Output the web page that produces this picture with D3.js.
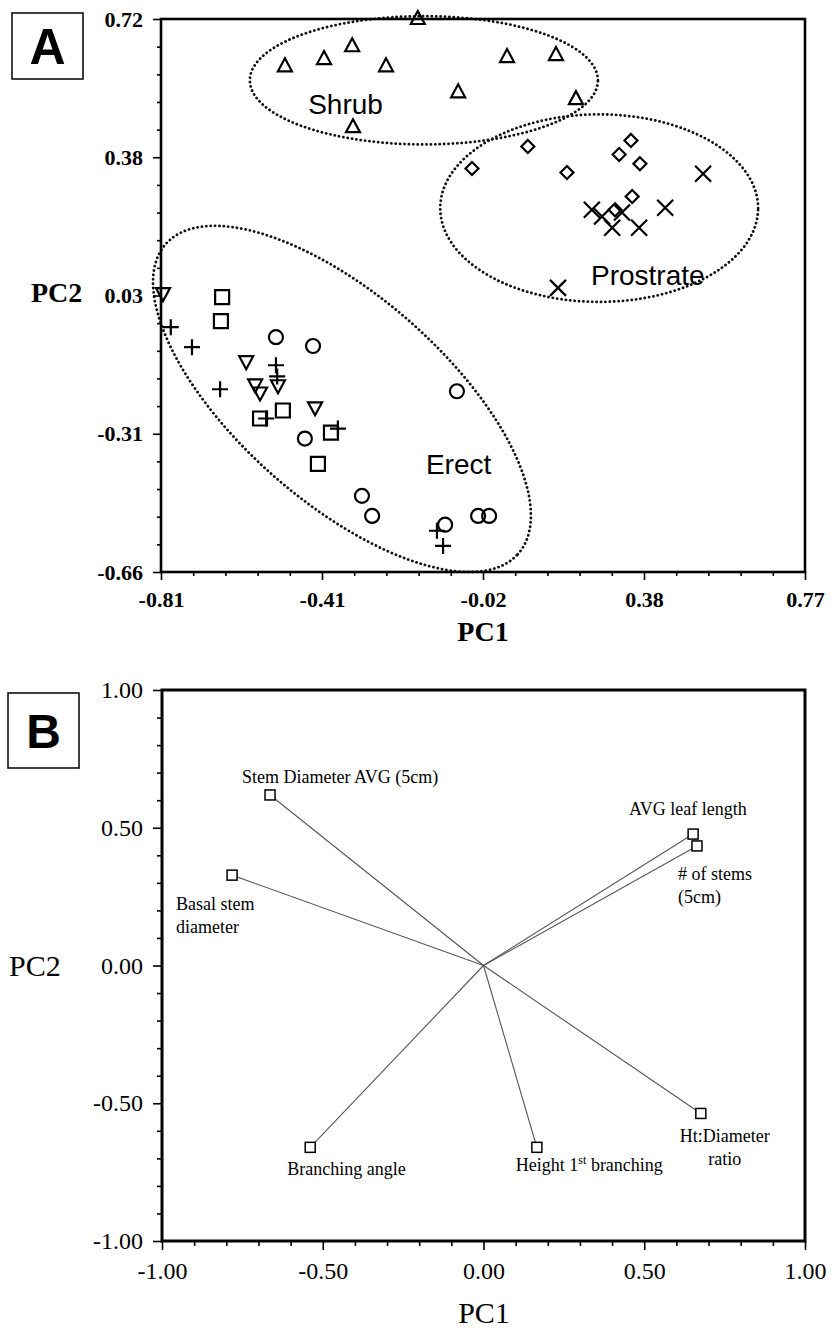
<!DOCTYPE html>
<html>
<head>
<meta charset="utf-8">
<script src="https://cdn.jsdelivr.net/npm/d3@7"></script>
<style>
  body { margin: 0; background: #fff; }
  svg { display: block; }
</style>
</head>
<body>
<div id="chart"></div>
<script>
// ---------- Panel A data: PC scores [PC1, PC2] by marker ----------
const triUp = [[-0.506,0.602],[-0.410,0.620],[-0.341,0.652],[-0.258,0.602],[-0.180,0.720],
               [-0.081,0.537],[0.039,0.625],[0.159,0.630],[0.208,0.520],[-0.339,0.450]];
const diamonds = [[-0.047,0.347],[0.090,0.402],[0.186,0.337],[0.314,0.382],[0.343,0.417],
                  [0.365,0.359],[0.346,0.277],[0.304,0.244]];
const crosses = [[0.247,0.244],[0.272,0.227],[0.297,0.199],[0.321,0.237],[0.363,0.199],
                 [0.427,0.249],[0.520,0.334],[0.164,0.049]];
const triDown = [[-0.805,0.036],[-0.601,-0.134],[-0.579,-0.192],[-0.567,-0.212],[-0.523,-0.194],[-0.432,-0.249]];
const squares = [[-0.660,0.026],[-0.663,-0.034],[-0.511,-0.257],[-0.567,-0.277],[-0.393,-0.312],[-0.425,-0.390]];
const circles = [[-0.528,-0.074],[-0.437,-0.096],[-0.084,-0.209],[-0.457,-0.327],[-0.317,-0.470],
                 [-0.292,-0.520],[-0.113,-0.542],[-0.032,-0.520],[-0.005,-0.520]];
const pluses = [[-0.786,-0.049],[-0.734,-0.099],[-0.665,-0.204],[-0.528,-0.144],[-0.525,-0.172],
                [-0.552,-0.277],[-0.376,-0.302],[-0.133,-0.557],[-0.118,-0.595]];

// group envelopes: name, centre, semi-axes (data units), rotation (deg), label anchor
const groupNames = ["Shrub", "Prostrate", "Erect"];
const groupCentres = [[-0.165, 0.567], [0.265, 0.248], [-0.366, -0.228]];
const groupRadii = [[0.427, 0.160], [0.390, 0.234], [0.580, 0.255]];
const groupAngles = [0, 0, -42];
const groupLabelAt = [[-0.449, 0.482], [0.245, 0.056], [-0.160, -0.415]];

const xTicksA = ["-0.81", "-0.41", "-0.02", "0.38", "0.77"];
const yTicksA = ["-0.66", "-0.31", "0.03", "0.38", "0.72"];

// ---------- Panel B data: variable loadings ----------
const varNames = ["Stem Diameter AVG (5cm)", "Basal stem diameter", "AVG leaf length", "# of stems (5cm)",
                  "Ht:Diameter ratio", "Height 1st branching", "Branching angle"];
const loadPC1 = [-0.664, -0.782, 0.652, 0.664, 0.676, 0.166, -0.539];
const loadPC2 = [0.619, 0.328, 0.477, 0.434, -0.537, -0.660, -0.660];

const xTicksB = ["-1.00", "-0.50", "0.00", "0.50", "1.00"];
const yTicksB = ["-1.00", "-0.50", "0.00", "0.50", "1.00"];

const W = 838, H = 1329;
const svg = d3.select("#chart").append("svg").attr("width", W).attr("height", H);
svg.append("rect").attr("width", W).attr("height", H).attr("fill", "#fff");

const serif = "'Liberation Serif', 'Times New Roman', serif";
const sans = "'Liberation Sans', Arial, sans-serif";

// evenly spaced tick positions + minor ticks (5 intervals per major)
function tickPos(labels, lo, hi) {
    return labels.map((d, i) => lo + i * (hi - lo) / (labels.length - 1));
}
function minorPos(major) {
    const out = [];
    for (let i = 0; i < major.length - 1; i++) {
        const step = (major[i + 1] - major[i]) / 5;
        for (let k = 1; k < 5; k++) out.push(major[i] + k * step);
    }
    return out;
}

function drawAxes(g, x, y, xLabels, yLabels, opt) {
    const xt = tickPos(xLabels, x.domain()[0], x.domain()[1]);
    const yt = tickPos(yLabels, y.domain()[0], y.domain()[1]);
    const [x0, x1] = x.range(), [y0, y1] = y.range();

    // minor ticks
    g.append("g").attr("transform", `translate(0,${y0})`)
        .call(d3.axisBottom(x).tickValues(minorPos(xt)).tickFormat("").tickSize(opt.minor).tickSizeOuter(0));
    g.append("g").attr("transform", `translate(${x0},0)`)
        .call(d3.axisLeft(y).tickValues(minorPos(yt)).tickFormat("").tickSize(opt.minor).tickSizeOuter(0));

    // major ticks with labels
    const ax = g.append("g").attr("transform", `translate(0,${y0})`)
        .call(d3.axisBottom(x).tickValues(xt).tickFormat((d, i) => xLabels[i])
            .tickSize(opt.major).tickPadding(opt.padX).tickSizeOuter(0));
    const ay = g.append("g").attr("transform", `translate(${x0},0)`)
        .call(d3.axisLeft(y).tickValues(yt).tickFormat((d, i) => yLabels[i])
            .tickSize(opt.major).tickPadding(opt.padY).tickSizeOuter(0));

    g.selectAll(".domain").remove();
    g.selectAll(".tick line").attr("stroke", "#000").attr("stroke-width", 1.6);
    [ax, ay].forEach(a => a.selectAll("text")
        .attr("font-family", serif).attr("font-size", opt.fontSize)
        .attr("font-weight", opt.bold ? "bold" : "normal").attr("fill", "#000"));

    // frame
    g.append("rect")
        .attr("x", x0).attr("y", y1).attr("width", x1 - x0).attr("height", y0 - y1)
        .attr("fill", "none").attr("stroke", "#000").attr("stroke-width", opt.frame);
}

function panelTag(letter, x, y, w, h, size) {
    svg.append("rect").attr("x", x).attr("y", y).attr("width", w).attr("height", h)
        .attr("fill", "none").attr("stroke", "#111").attr("stroke-width", 1.6);
    svg.append("text").attr("x", x + w / 2).attr("y", y + h / 2 + size * 0.36)
        .attr("text-anchor", "middle").attr("font-family", sans).attr("font-weight", "bold")
        .attr("font-size", size).text(letter);
}

// ================= Panel A =================
const xA = d3.scaleLinear().domain([-0.81, 0.77]).range([161, 805]);
const yA = d3.scaleLinear().domain([-0.66, 0.72]).range([572, 19]);
const gA = svg.append("g");

// envelopes
const ellipse = (c, r, ang) => {
    const phi = ang * Math.PI / 180;
    const pts = d3.range(0, 361, 2).map(t => {
        const a = t * Math.PI / 180;
        const ex = r[0] * Math.cos(a), ey = r[1] * Math.sin(a);
        return [xA(c[0] + ex * Math.cos(phi) - ey * Math.sin(phi)),
                yA(c[1] + ex * Math.sin(phi) + ey * Math.cos(phi))];
    });
    return d3.line()(pts);
};
gA.selectAll(".env").data(groupNames).enter().append("path")
    .attr("d", (d, i) => ellipse(groupCentres[i], groupRadii[i], groupAngles[i]))
    .attr("fill", "none").attr("stroke", "#111").attr("stroke-width", 2.8)
    .attr("stroke-linecap", "round").attr("stroke-dasharray", "0.1 4.3");

drawAxes(gA, xA, yA, xTicksA, yTicksA,
    { major: 8, minor: 4, padX: 11, padY: 10, fontSize: 22, bold: true, frame: 2.6 });

// marker shapes
const shapes = {
    triUp: "M0,-8L7,5L-7,5Z",
    triDown: "M0,8L7,-5L-7,-5Z",
    square: "M-7,-7H7V7H-7Z",
    diamond: "M0,-6.5L6.5,0L0,6.5L-6.5,0Z",
    cross: "M-8,-8L8,8M8,-8L-8,8",
    plus: "M-8,0H8M0,-8V8",
    circle: d3.arc()({ innerRadius: 0, outerRadius: 7, startAngle: 0, endAngle: 2 * Math.PI })
};
const series = [
    [triUp, "triUp"], [diamonds, "diamond"], [crosses, "cross"], [triDown, "triDown"],
    [squares, "square"], [circles, "circle"], [pluses, "plus"]
];
series.forEach(([pts, shape]) => {
    gA.selectAll(null).data(pts).enter().append("path")
        .attr("transform", d => `translate(${xA(d[0])},${yA(d[1])})`)
        .attr("d", shapes[shape])
        .attr("fill", "none").attr("stroke", "#000").attr("stroke-width", 2.2);
});

gA.selectAll(".grp").data(groupNames).enter().append("text")
    .attr("x", (d, i) => xA(groupLabelAt[i][0]))
    .attr("y", (d, i) => yA(groupLabelAt[i][1]))
    .attr("font-family", sans).attr("font-size", 28).text(d => d);

// axis titles
svg.append("text").attr("x", 483).attr("y", 641).attr("text-anchor", "middle")
    .attr("font-family", serif).attr("font-weight", "bold").attr("font-size", 28).text("PC1");
svg.append("text").attr("x", 31).attr("y", 302)
    .attr("font-family", serif).attr("font-weight", "bold").attr("font-size", 28).text("PC2");

panelTag("A", 12, 13, 71, 66, 50);

// ================= Panel B =================
const xB = d3.scaleLinear().domain([-1, 1]).range([162, 805]);
const yB = d3.scaleLinear().domain([-1, 1]).range([1241, 690]);
const gB = svg.append("g");

drawAxes(gB, xB, yB, xTicksB, yTicksB,
    { major: 9, minor: 5, padX: 12, padY: 10, fontSize: 24, bold: false, frame: 3 });

const loadings = varNames.map((name, i) => ({ name, x: loadPC1[i], y: loadPC2[i] }));

// vectors from origin
gB.selectAll(".vec").data(loadings).enter().append("line")
    .attr("x1", xB(0)).attr("y1", yB(0))
    .attr("x2", d => xB(d.x)).attr("y2", d => yB(d.y))
    .attr("stroke", "#555").attr("stroke-width", 1.1);

gB.selectAll(".pt").data(loadings).enter().append("rect")
    .attr("x", d => xB(d.x) - 5).attr("y", d => yB(d.y) - 5)
    .attr("width", 10).attr("height", 10)
    .attr("fill", "#fff").attr("stroke", "#000").attr("stroke-width", 1.5);

// label lines and offsets (px) from each square
const labelLayout = {
    "Stem Diameter AVG (5cm)": { lines: ["Stem Diameter AVG (5cm)"], dx: -28, dy: -12, anchor: "start" },
    "Basal stem diameter": { lines: ["Basal stem", "diameter"], dx: -56, dy: 35, anchor: "start" },
    "AVG leaf length": { lines: ["AVG leaf length"], dx: -64, dy: -19, anchor: "start" },
    "# of stems (5cm)": { lines: ["# of stems", "(5cm)"], dx: -19, dy: 34, anchor: "start" },
    "Ht:Diameter ratio": { lines: ["Ht:Diameter", "ratio"], dx: 24, dy: 29, anchor: "middle" },
    "Height 1st branching": { lines: ["Height 1st branching"], dx: -21, dy: 24, anchor: "start" },
    "Branching angle": { lines: ["Branching angle"], dx: -23, dy: 28, anchor: "start" }
};

loadings.forEach(d => {
    const l = labelLayout[d.name];
    l.lines.forEach((line, k) => {
        const t = gB.append("text")
            .attr("x", xB(d.x) + l.dx).attr("y", yB(d.y) + l.dy + k * 23)
            .attr("text-anchor", l.anchor)
            .attr("font-family", serif).attr("font-size", 18).attr("fill", "#000");
        if (line.startsWith("Height 1st")) {
            t.append("tspan").text("Height 1");
            t.append("tspan").attr("dy", -7).attr("font-size", 12).text("st");
            t.append("tspan").attr("dy", 7).text(" branching");
        } else {
            t.text(line);
        }
    });
});

svg.append("text").attr("x", 484).attr("y", 1323).attr("text-anchor", "middle")
    .attr("font-family", serif).attr("font-size", 30).text("PC1");
svg.append("text").attr("x", 9).attr("y", 976)
    .attr("font-family", serif).attr("font-size", 30).text("PC2");

panelTag("B", 8, 693, 71, 75, 48);
</script>
</body>
</html>
